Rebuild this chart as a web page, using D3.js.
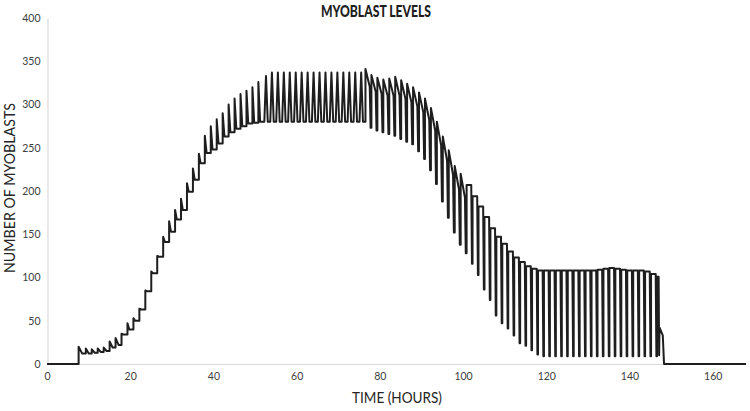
<!DOCTYPE html>
<html>
<head>
<meta charset="utf-8">
<script src="https://cdn.jsdelivr.net/npm/d3@7"></script>
<style>
  html, body { margin: 0; padding: 0; background: #ffffff; }
  svg { display: block; }
</style>
</head>
<body>
<svg id="chart" width="750" height="411"></svg>
<script>
// ---------------- DATA ----------------
const chartTitle = "MYOBLAST LEVELS";
const xAxisTitle = "TIME (HOURS)";
const yAxisTitle = "NUMBER OF MYOBLASTS";

const xTicks = [0, 20, 40, 60, 80, 100, 120, 140, 160];
const yTicks = [0, 50, 100, 150, 200, 250, 300, 350, 400];

// start hour of each cycle (hours)
const cycleHours = [
  7.6, 9.33, 10.76, 12.19, 13.62, 15.05, 16.48, 17.91, 19.34, 20.77,
  22.2, 23.63, 25.06, 26.49, 27.92, 29.35, 30.78, 32.21, 33.64, 35.07,
  36.5, 37.93, 39.36, 40.79, 42.22, 43.65, 45.08, 46.51, 47.94, 49.37,
  50.8, 52.23, 53.66, 55.09, 56.52, 57.95, 59.38, 60.81, 62.24, 63.67,
  65.1, 66.53, 67.96, 69.39, 70.82, 72.25, 73.68, 75.11, 76.54, 77.97,
  79.4, 80.83, 82.26, 83.69, 85.12, 86.55, 87.98, 89.41, 90.84, 92.27,
  93.7, 95.13, 96.56, 97.99, 99.42, 100.85, 102.28, 103.71, 105.14, 106.57,
  108.0, 109.43, 110.86, 112.29, 113.72, 115.15, 116.58, 118.01, 119.44, 120.87,
  122.3, 123.73, 125.16, 126.59, 128.02, 129.45, 130.88, 132.31, 133.74, 135.17,
  136.6, 138.03, 139.46, 140.89, 142.32, 143.75, 145.18, 146.61
];

// highest myoblast count reached in each cycle
const cyclePeaks = [
  20, 18, 17, 18, 19, 26, 30, 35, 47, 53,
  64, 85, 107, 125, 147, 165, 178, 191, 209, 226,
  243, 264, 275, 283, 290, 300, 307, 312, 316, 320,
  326, 333, 337, 337, 337, 337, 337, 337, 337, 337,
  337, 337, 337, 337, 337, 337, 337, 337, 341, 334,
  331, 329, 330, 332, 328, 324, 320, 314, 307, 296,
  280, 263, 247, 229, 220, 207, 194, 182, 170, 157,
  147, 139, 130, 123, 118, 113, 110, 108, 108, 108,
  108, 108, 108, 108, 108, 108, 108, 109, 110, 111,
  110, 109, 108, 108, 108, 107, 104, 101
];

// lowest myoblast count reached in each cycle
const cycleTroughs = [
  12, 12, 13, 14, 15, 19, 22, 34, 40, 50,
  63, 84, 105, 124, 141, 153, 167, 178, 199, 213,
  232, 244, 248, 255, 263, 268, 272, 275, 278, 279,
  280, 280, 280, 280, 280, 280, 280, 280, 280, 280,
  280, 280, 280, 280, 280, 280, 280, 280, 273, 270,
  268, 266, 264, 260, 257, 254, 246, 237, 224, 208,
  188, 169, 152, 138, 128, 116, 103, 86, 74, 56,
  47, 41, 33, 24, 21, 16, 11, 9, 9, 9,
  9, 9, 9, 9, 9, 9, 9, 9, 9, 9,
  9, 9, 9, 9, 9, 9, 9, 10
];

// after the last cycle
const tailHours  = [147.0, 147.12, 147.22, 148.0, 148.3, 168];
const tailValues = [101, 10, 42, 33, 0, 0];

// ---------------- CHART ----------------
const svg = d3.select("#chart");
const x = d3.scaleLinear().domain([0, 168]).range([47, 746]);
const y = d3.scaleLinear().domain([0, 400]).range([364, 18]);

// build the path points (shape of each cycle drawn between its peak and trough)
const pts = [[0, 0]];
const n = cycleHours.length;
for (let k = 0; k < n; k++) {
  const t = cycleHours[k];
  const hi = cyclePeaks[k], lo = cycleTroughs[k];
  const prevLow = k === 0 ? 0 : cycleTroughs[k - 1];
  const P = k < n - 1 ? cycleHours[k + 1] - t : cycleHours[k] - cycleHours[k - 1];
  pts.push([t, prevLow]);
  if (k === n - 1) { pts.push([t, hi]); break; }
  if (k <= 6) {                       // early small zig-zag
    pts.push([t, hi]);
    pts.push([t + 0.5 * P, lo]);
  } else if (t < 52) {                // rising staircase
    pts.push([t, hi]);
    pts.push([t + 0.3 * P, lo]);
  } else if (t < 76) {                // upper plateau: narrow spikes
    pts.push([t + 0.28 * P, hi]);
    pts.push([t + 0.58 * P, lo]);
  } else if (t < 100) {               // decline: peak, slope, sharp drop
    pts.push([t, hi]);
    pts.push([t + 0.72 * P, hi - 0.3 * (hi - lo)]);
    pts.push([t + 0.86 * P, lo]);
  } else {                            // low plateau: flat top, narrow drop
    pts.push([t, hi]);
    pts.push([t + 0.78 * P, hi]);
    pts.push([t + 0.9 * P, lo]);
  }
}
tailHours.forEach((h, i) => pts.push([h, tailValues[i]]));

// axes
const gx = svg.append("g").attr("transform", "translate(0,364)")
  .call(d3.axisBottom(x).tickValues(xTicks).tickSize(0).tickPadding(9));
gx.select(".domain").attr("stroke", "#d9d9d9").attr("stroke-width", 1.2);
gx.selectAll("text").attr("font-family", "Lato, 'Open Sans', sans-serif")
  .attr("font-size", 10.5).attr("fill", "#404040");

const gy = svg.append("g").attr("transform", "translate(47.5,0)")
  .call(d3.axisLeft(y).tickValues(yTicks).tickSize(0).tickPadding(7));
gy.select(".domain").attr("stroke", "#d9d9d9").attr("stroke-width", 1.2);
gy.selectAll("text").attr("font-family", "Lato, 'Open Sans', sans-serif")
  .attr("font-size", 10.5).attr("fill", "#404040");

// line
const line = d3.line().x(d => x(d[0])).y(d => y(d[1]));
svg.append("path")
  .datum(pts)
  .attr("d", line)
  .attr("fill", "none")
  .attr("stroke", "#1e1e1e")
  .attr("stroke-width", 2)
  .attr("stroke-linejoin", "round");

// titles
svg.append("text")
  .attr("x", 376).attr("y", 16.5)
  .attr("text-anchor", "middle")
  .attr("font-family", "Lato, 'Open Sans', sans-serif")
  .attr("font-weight", "900")
  .attr("font-size", 16.5)
  .attr("textLength", 110)
  .attr("lengthAdjust", "spacingAndGlyphs")
  .attr("fill", "#1e1e1e")
  .text(chartTitle);

svg.append("text")
  .attr("x", 397).attr("y", 403)
  .attr("text-anchor", "middle")
  .attr("font-family", "Lato, 'Open Sans', sans-serif")
  .attr("font-size", 14.5)
  .attr("textLength", 90)
  .attr("lengthAdjust", "spacingAndGlyphs")
  .attr("fill", "#262626")
  .text(xAxisTitle);

svg.append("text")
  .attr("transform", "translate(15,188) rotate(-90)")
  .attr("text-anchor", "middle")
  .attr("font-family", "Lato, 'Open Sans', sans-serif")
  .attr("font-size", 14.5)
  .attr("textLength", 170)
  .attr("lengthAdjust", "spacingAndGlyphs")
  .attr("fill", "#262626")
  .text(yAxisTitle);
</script>
</body>
</html>
